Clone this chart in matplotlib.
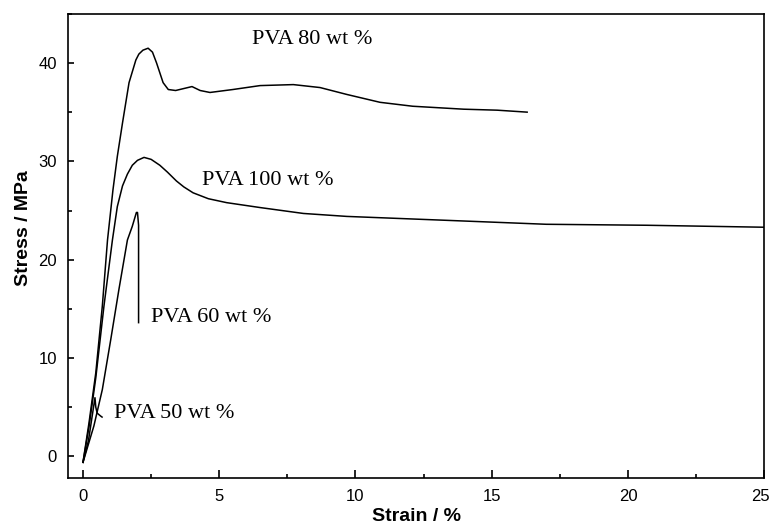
import numpy as np
import matplotlib.pyplot as plt
import matplotlib.transforms as mtransforms
from matplotlib.ticker import MultipleLocator

# stress-strain curves
strain_80 = [0, 0.22, 0.47, 0.71, 0.9, 1.1, 1.26, 1.45, 1.69, 1.94, 2.05, 2.2, 2.39, 2.55, 2.7, 2.94, 3.13,
             3.4, 3.7, 4.0, 4.3, 4.66, 5.5, 6.5, 7.72, 8.7, 9.68, 10.9, 12.1, 13.97, 15.2, 16.3]
stress_80 = [-0.6, 3.4, 8.5, 15.3, 22.0, 27.1, 30.5, 33.9, 38.0, 40.3, 40.9, 41.3, 41.5, 41.1, 40.0, 38.0, 37.3,
             37.2, 37.4, 37.6, 37.2, 37.0, 37.3, 37.7, 37.8, 37.5, 36.8, 36.0, 35.6, 35.3, 35.2, 35.0]

strain_100 = [0, 0.22, 0.47, 0.77, 1.08, 1.26, 1.45, 1.63, 1.81, 2.0, 2.24, 2.5, 2.82, 3.1, 3.43,
              3.7, 4.04, 4.6, 5.27, 6.5, 8.09, 9.68, 13.36, 17.0, 20.7, 25.0]
stress_100 = [-0.6, 3.0, 8.0, 15.3, 22.0, 25.4, 27.5, 28.7, 29.6, 30.1, 30.4, 30.2, 29.6, 28.9, 28.0,
              27.4, 26.8, 26.2, 25.8, 25.3, 24.7, 24.4, 24.0, 23.6, 23.5, 23.3]

strain_60 = [0, 0.40, 0.71, 1.02, 1.32, 1.63, 1.81, 1.96, 2.0, 2.04, 2.04]
stress_60 = [-0.6, 3.1, 6.8, 11.9, 17.0, 22.0, 23.4, 24.8, 24.8, 23.5, 13.6]

strain_50 = [0, 0.20, 0.44, 0.47, 0.52, 0.65, 0.70]
stress_50 = [-0.6, 1.6, 5.97, 5.0, 4.4, 4.1, 4.0]

labels = ['PVA 80 wt %', 'PVA 100 wt %', 'PVA 60 wt %', 'PVA 50 wt %']
label_pos = [(6.2, 42.4), (4.35, 28.1), (2.51, 14.1), (1.13, 4.4)]

x_ticks = [0, 5, 10, 15, 20, 25]
y_ticks = [0, 10, 20, 30, 40]

fig = plt.figure(figsize=(7.71, 5.30), dpi=100)
ax = fig.add_axes([0.0882, 0.098, 0.903, 0.876])

for xs, ys in [(strain_80, stress_80), (strain_100, stress_100),
               (strain_60, stress_60), (strain_50, stress_50)]:
    ax.plot(xs, ys, color='black', linewidth=1.1)

for txt, (tx, ty) in zip(labels, label_pos):
    ax.text(tx, ty, txt, ha='left', va='center', fontsize=16,
            family=['Liberation Serif', 'DejaVu Serif'])

ax.set_xlim(-0.55, 25)
ax.set_ylim(-2.2, 45)
ax.set_xticks(x_ticks)
ax.set_yticks(y_ticks)
ax.xaxis.set_minor_locator(MultipleLocator(2.5))
ax.yaxis.set_minor_locator(MultipleLocator(5))
ax.tick_params(axis='x', which='major', direction='in', length=6, width=1.2, pad=8)
ax.tick_params(axis='x', which='minor', direction='in', length=3, width=1.2)
ax.tick_params(axis='y', which='major', direction='in', length=4, width=1.2, pad=8)
ax.tick_params(axis='y', which='minor', direction='in', length=3, width=1.2)
for lab in ax.get_xticklabels() + ax.get_yticklabels():
    lab.set_family(['Liberation Sans Narrow', 'Liberation Sans'])
    lab.set_fontsize(12)
for sp in ax.spines.values():
    sp.set_linewidth(1.2)

# "25" sits right at the figure edge, nudge it left a bit
last = ax.get_xticklabels()[-1]
last.set_transform(last.get_transform() + mtransforms.ScaledTranslation(-4 / 100, 0, fig.dpi_scale_trans))

ax.set_xlabel('Strain / %', fontsize=14, fontweight='bold',
              family=['Liberation Sans', 'DejaVu Sans'], labelpad=3)
ax.set_ylabel('Stress / MPa', fontsize=14, fontweight='bold',
              family=['Liberation Sans', 'DejaVu Sans'])
ax.yaxis.set_label_coords(-0.052, 0.539)

fig.savefig('out.png', dpi=100)
